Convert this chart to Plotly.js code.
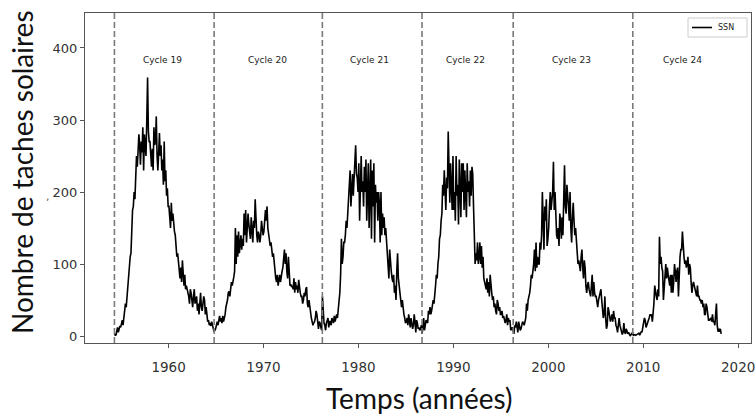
<!DOCTYPE html>
<html><head><meta charset="utf-8">
<script src="https://cdn.plot.ly/plotly-3.0.1.min.js"></script>
<style>html,body{margin:0;padding:0;background:#fff}#chart{width:756px;height:417px}</style>
</head><body><div id="chart"></div>
<script>
// Monthly sunspot numbers (SSN), by block
const firstMonth = [1954, 4];   // year, month of the first value
const ssn1954_59 = [
  1, 2, 1, 6, 12, 5, 10, 14, 12,
  20, 22, 15, 25, 40, 45, 40, 55, 65, 75, 95, 110,
  115, 160, 175, 180, 200, 190, 230, 250, 235, 255, 280, 265,
  238, 270, 255, 290, 230, 280, 265, 250, 300, 359, 285, 270,
  270, 240, 235, 260, 230, 290, 265, 270, 305, 250, 230, 255,
  282, 250, 265, 230, 245, 210, 270, 215, 230, 195, 205, 180
];
const ssn1960s = [
  180, 165, 150, 185, 160, 170, 150, 145, 140, 125, 110, 115,
  100, 85, 80, 95, 75, 105, 90, 70, 85, 65, 70, 65,
  60, 55, 45, 65, 60, 50, 40, 55, 65, 45, 50, 55,
  35, 45, 30, 50, 60, 40, 35, 45, 55, 50, 30, 40,
  25, 20, 22, 15, 18, 14, 20, 15, 10, 6, 8, 10,
  15, 20, 15, 22, 28, 20, 25, 18, 28, 20, 25, 30,
  40, 45, 50, 60, 62, 55, 68, 75, 70, 80, 82, 90,
  150, 100, 140, 110, 145, 115, 130, 140, 120, 135, 125, 170,
  140, 175, 130, 150, 170, 155, 145, 135, 165, 150, 130, 160,
  150, 190, 155, 140, 130, 145, 140, 130, 140, 160, 150, 140
];
const ssn1970s = [
  145, 165, 175, 160, 180, 150, 140, 135, 125, 130, 120, 110,
  115, 100, 95, 80, 75, 85, 70, 80, 85, 75, 85, 90,
  95, 110, 120, 100, 115, 90, 80, 110, 78, 70, 72, 68,
  70, 65, 80, 60, 75, 65, 70, 60, 78, 65, 60, 55,
  55, 45, 50, 60, 55, 65, 68, 45, 40, 50, 40, 35,
  25, 20, 15, 18, 20, 25, 35, 30, 15, 10, 20, 18,
  12, 8, 55, 20, 18, 15, 8, 18, 22, 25, 12, 20,
  20, 15, 25, 22, 18, 28, 20, 25, 30, 25, 35, 45,
  60, 85, 135, 100, 110, 130, 130, 140, 160, 150, 185, 190,
  210, 230, 180, 200, 225, 195, 215, 230, 265, 225, 220, 200
];
const ssn1980s = [
  240, 160, 230, 250, 200, 215, 180, 235, 200, 245, 160, 220,
  240, 150, 200, 245, 135, 230, 180, 240, 130, 210, 185, 200,
  160, 200, 185, 130, 200, 140, 170, 150, 165, 140, 150, 130,
  125, 100, 80, 120, 95, 90, 80, 75, 85, 60, 70, 50,
  90, 115, 80, 65, 60, 50, 40, 50, 35, 30, 25, 18,
  20, 25, 15, 30, 22, 12, 25, 18, 10, 15, 30, 20,
  5, 22, 18, 10, 12, 8, 10, 15, 3, 12, 25, 8,
  15, 22, 20, 18, 35, 30, 40, 30, 35, 45, 50, 45,
  55, 70, 85, 80, 100, 110, 135, 140, 160, 170, 210, 195,
  230, 200, 175, 220, 205, 284, 210, 185, 240, 215, 175, 250
];
const ssn1990s = [
  175, 200, 160, 250, 195, 210, 155, 245, 180, 165, 240, 200,
  240, 175, 230, 185, 165, 240, 200, 215, 180, 230, 195, 235,
  225, 180, 125, 100, 115, 105, 130, 100, 110, 130, 100, 125,
  95, 110, 80, 75, 70, 65, 80, 60, 75, 55, 85, 65,
  60, 50, 55, 40, 45, 35, 30, 50, 45, 35, 40, 30,
  30, 35, 25, 28, 20, 18, 22, 30, 15, 25, 20, 22,
  8, 10, 12, 8, 3, 15, 12, 20, 8, 5, 20, 15,
  8, 10, 15, 20, 18, 15, 20, 25, 45, 35, 50, 55,
  60, 70, 85, 80, 90, 100, 120, 90, 130, 95, 110, 100,
  100, 130, 120, 140, 200, 150, 120, 180, 160, 190, 125, 135
];
const ssn2000s = [
  150, 180, 200, 175, 190, 200, 242, 175, 200, 150, 140, 135,
  150, 125, 170, 160, 135, 165, 140, 190, 237, 180, 170, 210,
  185, 180, 160, 200, 150, 130, 165, 185, 160, 140, 150, 130,
  120, 100, 105, 95, 90, 110, 120, 95, 80, 105, 95, 70,
  60, 70, 75, 65, 60, 55, 70, 85, 55, 75, 60, 55,
  55, 45, 40, 50, 55, 60, 65, 50, 35, 25, 30, 55,
  25, 10, 15, 40, 35, 25, 20, 25, 30, 20, 35, 25,
  25, 15, 12, 5, 20, 25, 15, 10, 3, 2, 5, 18,
  6, 3, 10, 5, 3, 5, 1, 0, 2, 5, 5, 1,
  2, 2, 1, 2, 3, 4, 4, 1, 5, 6, 6, 12
];
const ssn2010s = [
  18, 25, 22, 12, 15, 20, 22, 25, 30, 28, 30, 20,
  30, 45, 70, 60, 55, 50, 65, 55, 138, 100, 110, 95,
  90, 50, 70, 85, 100, 80, 95, 85, 75, 70, 85, 60,
  85, 60, 75, 100, 90, 75, 90, 95, 55, 100, 110, 120,
  120, 145, 115, 110, 100, 105, 95, 100, 110, 85, 100, 95,
  75, 60, 70, 75, 70, 65, 60, 55, 70, 55, 55, 50,
  50, 45, 50, 40, 45, 30, 30, 45, 40, 30, 22, 22,
  25, 25, 20, 30, 20, 20, 15, 30, 45, 15, 6, 10,
  6, 10, 3
];
const cycleStarts = [1954.3, 1964.8, 1976.2, 1986.7, 1996.3, 2008.9];
const cycleNames = ["Cycle 19", "Cycle 20", "Cycle 21", "Cycle 22", "Cycle 23", "Cycle 24"];
const cycleLabelX = [1959.4, 1970.4, 1981.2, 1991.3, 2002.4, 2014.1];
const xTicks = [1960, 1970, 1980, 1990, 2000, 2010, 2020];
const yTicks = [0, 100, 200, 300, 400];
const seriesName = "SSN";

// build series
const blocks = [ssn1954_59, ssn1960s, ssn1970s, ssn1980s, ssn1990s, ssn2000s, ssn2010s];
const xs = [], ys = [];
let m = firstMonth[0] * 12 + (firstMonth[1] - 1);
blocks.forEach(b => b.forEach(v => { xs.push(Math.floor(m / 12) + ((m % 12) + 0.5) / 12); ys.push(v); m++; }));

const trace = {x: xs, y: ys, type: 'scatter', mode: 'lines', name: seriesName, showlegend: false,
  line: {color: '#000', width: 1.6}};

// plot area in pixels: x 85..751, y 13..343
const W = 756, H = 417, L = 85, R = 5, T = 13, B = 74;
const pw = W - L - R, ph = H - T - B;
const px = v => (v - L) / pw, py = v => (H - B - v) / ph;

const shapes = cycleStarts.map(c => ({type: 'line', xref: 'x', yref: 'paper', x0: c, x1: c, y0: 0, y1: 1,
  line: {color: '#7a7a7a', width: 1.6, dash: '6px,3px'}}));
// legend box drawn by hand
shapes.push({type: 'rect', xref: 'paper', yref: 'paper', x0: px(688), x1: px(747), y0: py(37), y1: py(18),
  line: {color: '#cccccc', width: 1}, fillcolor: '#ffffff'});
shapes.push({type: 'line', xref: 'paper', yref: 'paper', x0: px(692), x1: px(712), y0: py(27.5), y1: py(27.5),
  line: {color: '#000', width: 1.6}});

const annotations = cycleNames.map((n, i) => ({x: cycleLabelX[i], y: 383, xref: 'x', yref: 'y', text: n,
  showarrow: false, font: {family: 'DejaVu Sans', size: 9, color: '#222'}}));
annotations.push({xref: 'paper', yref: 'paper', x: px(716), xanchor: 'left', y: py(27.5), yanchor: 'middle',
  showarrow: false, text: seriesName, font: {family: 'DejaVu Sans', size: 8, color: '#222'}});
annotations.push({xref: 'paper', yref: 'paper', x: px(419), y: py(398), yanchor: 'middle', showarrow: false,
  text: 'Temps (années)', font: {family: 'Lato', size: 28, color: '#111'}});
annotations.push({xref: 'paper', yref: 'paper', x: px(22), xanchor: 'center', y: py(172), yanchor: 'middle',
  showarrow: false, textangle: -90,
  text: 'Nombre de taches solaires', font: {family: 'Lato', size: 28, color: '#111'}});
annotations.push({xref: 'paper', yref: 'paper', x: px(44), y: py(196), showarrow: false,
  text: ',', font: {family: 'DejaVu Sans', size: 11, color: '#555'}});

const layout = {
  width: W, height: H,
  margin: {l: L, r: R, t: T, b: B},
  paper_bgcolor: '#fff', plot_bgcolor: '#fff',
  showlegend: false,
  xaxis: {range: [1951.2, 2021.35], tickmode: 'array', tickvals: xTicks, ticks: 'outside', ticklen: 4, tickcolor: '#555',
    showline: true, mirror: true, linecolor: '#555', linewidth: 1, showgrid: false, zeroline: false,
    tickfont: {family: 'DejaVu Sans', size: 13.5, color: '#333'}, ticklabelstandoff: 8},
  yaxis: {range: [-9.7, 448.6], tickmode: 'array', tickvals: yTicks, ticks: 'outside', ticklen: 4, tickcolor: '#555',
    showline: true, mirror: true, linecolor: '#555', linewidth: 1, showgrid: false, zeroline: false,
    tickfont: {family: 'DejaVu Sans', size: 13, color: '#333'}},
  shapes: shapes, annotations: annotations
};
Plotly.newPlot('chart', [trace], layout, {staticPlot: true, displayModeBar: false});
</script></body></html>
